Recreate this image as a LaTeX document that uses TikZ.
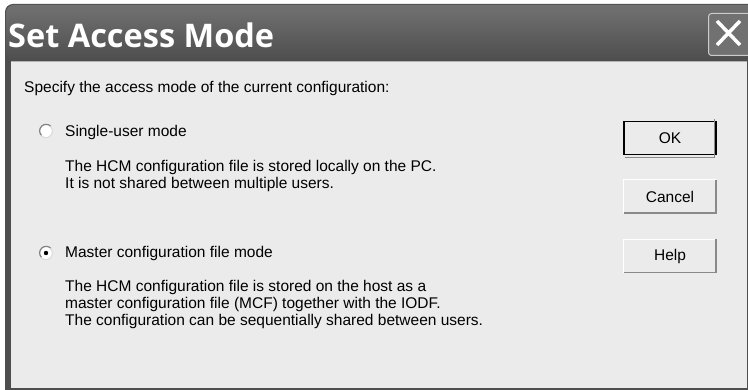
\documentclass[tikz,border=0pt]{standalone}
\usepackage{fontspec}
\setmainfont{Liberation Sans}
\newfontfamily\titlefont{Open Sans}
\definecolor{dlgface}{HTML}{EBEBEB}
\definecolor{framegray}{HTML}{4E4E4E}
\definecolor{shadowgray}{HTML}{8A8A8A}
\tikzset{
    txt/.style={anchor=base west, inner sep=0pt, font=\fontsize{15.5}{17}\selectfont},
    btn/.style={fill=dlgface, minimum width=92pt, minimum height=33pt, inner sep=0pt,
                font=\fontsize{15.5}{17}\selectfont},
    radio/.style={circle, fill=white, minimum size=13pt, inner sep=0pt}
}
\begin{document}
\begin{tikzpicture}[x=1pt,y=-1pt]
    \useasboundingbox (0,0) rectangle (748,390);
    \fill[white] (0,0) rectangle (748,390);

    % window frame and title bar
    \fill[framegray, rounded corners=8pt] (5,4) rectangle (760,400);
    \shade[top color=framegray!80, bottom color=framegray, rounded corners=8pt]
        (6,5) rectangle (760,60);
    \fill[dlgface] (11,62) rectangle (747,388);
    \draw[gray!60] (11,61) -- (747,61);

    \node[anchor=base west, inner sep=0pt, text=white,
          font=\titlefont\bfseries\fontsize{32.5}{38}\selectfont] (title) at (8,48) {Set Access Mode};

    % close button
    \node[draw=gray!40, line width=1pt, fill=framegray!80, rounded corners=3pt,
          minimum width=44pt, minimum height=42pt, anchor=north west] (close) at (708,13) {};
    \begin{scope}[white, line width=3.5pt]
        \draw (717,21) -- (740,45);
        \draw (740,21) -- (717,45);
    \end{scope}

    % texts
    \node[txt] (intro) at (24,93) {Specify the access mode of the current configuration:};

    \node[radio] (single) at (46,131) {};
    \node[txt] (singlelbl) at (65,137) {Single-user mode};
    \node[txt] (singletxt1) at (65,172) {The HCM configuration file is stored locally on the PC.};
    \node[txt] (singletxt2) at (65,189) {It is not shared between multiple users.};

    \node[radio] (master) at (46,253) {};
    \fill (master) circle (2.2pt);
    \node[txt] (masterlbl) at (65,258) {Master configuration file mode};
    \node[txt] (mastertxt1) at (65,292) {The HCM configuration file is stored on the host as a};
    \node[txt] (mastertxt2) at (65,309) {master configuration file (MCF) together with the IODF.};
    \node[txt] (mastertxt3) at (65,326) {The configuration can be sequentially shared between users.};

    % sunken rims of the radio buttons
    \foreach \r in {single,master} {
            \draw[gray, line width=1.2pt] (\r.45) arc[start angle=45, end angle=225, radius=6.5pt];
            \draw[gray!30, line width=1pt] (\r.225) arc[start angle=225, end angle=405, radius=6.5pt];
        }

    % buttons
    \node[btn, draw=black, line width=1.3pt] (ok) at (670,138) {OK};
    \node[btn] (cancel) at (670,196.5) {Cancel};
    \node[btn] (help) at (670,256) {Help};
    \foreach \b in {cancel,help} {
            \draw[white, line width=1.2pt] (\b.south west) |- (\b.north east);
            \draw[shadowgray, line width=1.5pt] (\b.south west) -| (\b.north east);
        }
    \draw[shadowgray, line width=1pt] ([shift={(2pt,-2pt)}]ok.south west) -| ([shift={(-2pt,2pt)}]ok.north east);
\end{tikzpicture}
\end{document}
